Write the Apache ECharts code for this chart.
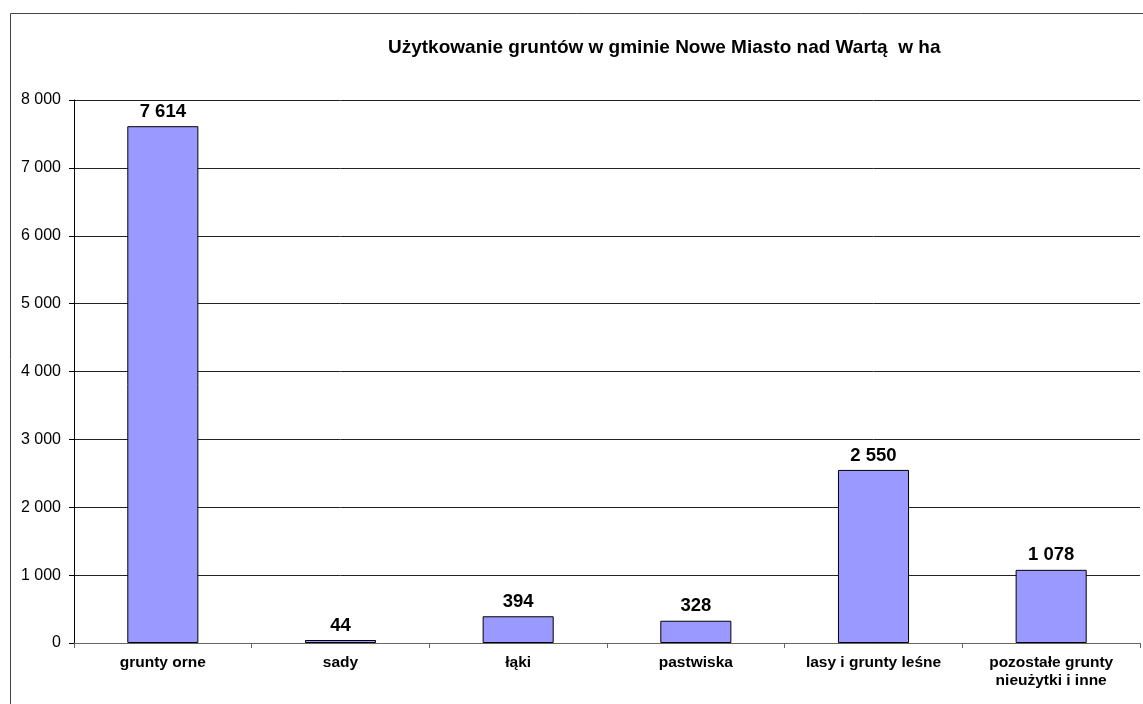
<!DOCTYPE html>
<html>
<head>
<meta charset="utf-8">
<script src="https://cdn.jsdelivr.net/npm/echarts@6/dist/echarts.min.js"></script>
<style>
  html, body { margin: 0; padding: 0; background: #fff; }
  #chart { width: 1143px; height: 704px; }
</style>
</head>
<body>
<div id="chart"></div>
<script>
  const categories = ['grunty orne', 'sady', 'łąki', 'pastwiska', 'lasy i grunty leśne', 'pozostałe grunty\nnieużytki i inne']
  const values = [7614, 44, 394, 328, 2550, 1078]
  const yTicks = { min: 0, max: 8000, interval: 1000 }

  const fmt = (v) => String(v).replace(/\B(?=(\d{3})+(?!\d))/g, ' ')

  const chart = echarts.init(document.getElementById('chart'))
  const option = {
    backgroundColor: '#fff',
    animation: false,
    title: {
      text: 'Użytkowanie gruntów w gminie Nowe Miasto nad Wartą  w ha',
      left: 383,
      top: 33,
      textStyle: { fontFamily: 'Liberation Sans', fontSize: 19, fontWeight: 'bold', color: '#000' }
    },
    graphic: [
      {
        type: 'rect',
        shape: { x: 10.5, y: 13.5, width: 1200, height: 800 },
        style: { fill: 'none', stroke: '#444', lineWidth: 1 },
        silent: true
      }
    ],
    grid: { left: 74, right: 3, top: 100, bottom: 61 },
    xAxis: {
      type: 'category',
      data: categories,
      axisLine: { lineStyle: { color: '#666', width: 1 } },
      axisTick: { show: true, length: 5, lineStyle: { color: '#666' } },
      axisLabel: {
        interval: 0,
        margin: 11,
        fontFamily: 'Liberation Sans',
        fontSize: 15.5,
        fontWeight: 'bold',
        color: '#000',
        lineHeight: 18
      }
    },
    yAxis: {
      type: 'value',
      min: yTicks.min,
      max: yTicks.max,
      interval: yTicks.interval,
      axisLine: { show: true, lineStyle: { color: '#000', width: 1 } },
      axisTick: { show: true, length: 5, lineStyle: { color: '#000' } },
      splitLine: { lineStyle: { color: '#222', width: 1 } },
      axisLabel: {
        formatter: fmt,
        fontFamily: 'Liberation Sans',
        fontSize: 16,
        color: '#000',
        margin: 13
      }
    },
    series: [
      {
        type: 'bar',
        data: values,
        barWidth: '40%',
        itemStyle: { color: '#9999FF', borderColor: '#000', borderWidth: 1 },
        label: {
          show: true,
          position: 'top',
          distance: 5,
          formatter: (p) => fmt(p.value),
          fontFamily: 'Liberation Sans',
          fontSize: 18.5,
          fontWeight: 'bold',
          color: '#000'
        }
      }
    ]
  }
  chart.setOption(option)
</script>
</body>
</html>
